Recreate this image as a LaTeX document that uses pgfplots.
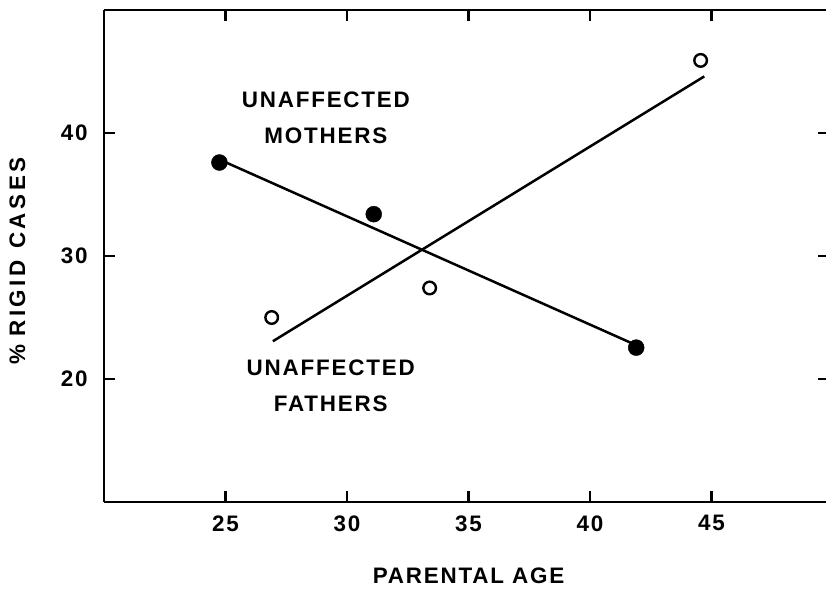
\documentclass[border=0pt]{standalone}
\usepackage{fontspec}
\setmainfont{Liberation Sans}[LetterSpace=8]
\usepackage{pgfplots}
\pgfplotsset{compat=1.18}
\begin{document}
\begin{tikzpicture}[font=\fontsize{22.5}{26}\selectfont\bfseries]
\path[use as bounding box] (-104bp,-87bp) rectangle (722bp,502bp);
\begin{axis}[at={(0,0)}, anchor=south west, scale only axis, width=722bp, height=492bp,
 xmin=20, xmax=49.71, ymin=10, ymax=50,
 axis x line=box, axis y line=left, axis line style={-, line width=2.5bp},
 tick align=inside, major tick length=11bp, tick style={line width=2.3bp, black},
 xtick={25,30,35,40,45}, ytick={20,30,40},
 /pgf/number format/assume math mode=true,
 xticklabel style={yshift=-10bp}, yticklabel style={xshift=-13bp},
 xlabel={PARENTAL AGE}, ylabel={\addfontfeatures{LetterSpace=16}\%\hspace{0.35em}RIGID\hspace{0.5em}CASES},
 xlabel style={at={(axis description cs:0.505,-0.15)}, anchor=center},
 ylabel style={at={(axis description cs:-0.12,0.49)}, anchor=center},
 clip=false]
\addplot[only marks, mark=*, mark size=8bp, black] coordinates {(24.75,37.6) (31.1,33.4) (41.9,22.55)};
\addplot[no marks, line width=2.5bp, black] coordinates {(24.8,37.8) (41.9,22.75)};
\addplot[only marks, mark=o, mark size=6.3bp, mark options={line width=2.4bp}, black] coordinates {(26.9,25.0) (33.4,27.4) (44.55,45.9)};
\addplot[no marks, line width=2.5bp, black] coordinates {(26.95,23.07) (44.7,44.6)};
\node at (axis cs:29.13,42.74) {UNAFFECTED};
\node at (axis cs:29.13,39.81) {MOTHERS};
\node at (axis cs:29.33,20.95) {UNAFFECTED};
\node at (axis cs:29.33,17.97) {FATHERS};
\end{axis}
\begin{axis}[at={(0,0)}, anchor=south west, scale only axis, width=722bp, height=492bp,
 xmin=20, xmax=49.71, ymin=10, ymax=50, axis x line=none, axis y line*=right,
 y axis line style={draw=none}, ytick={20,30,40}, yticklabels={},
 tick align=inside, major tick length=8bp, tick style={line width=2.3bp, black}]
\addplot[draw=none] coordinates {(30,30)};
\end{axis}
\end{tikzpicture}
\end{document}
